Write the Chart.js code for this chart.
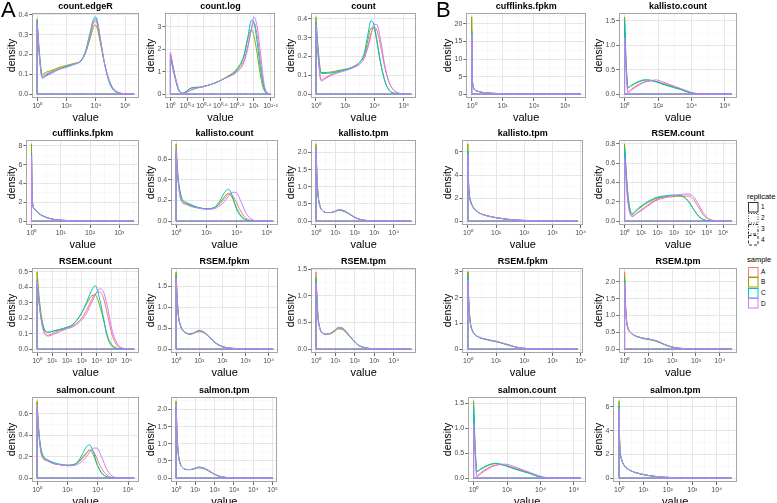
<!DOCTYPE html>
<html>
<head>
<meta charset="utf-8">
<script src="https://cdn.jsdelivr.net/npm/chart.js@4.4.1/dist/chart.umd.min.js"></script>
<style>
  body { margin: 0; background: #fff; }
  #fig { position: relative; width: 777px; height: 503px; overflow: hidden; font-family: "Liberation Sans", Arial, sans-serif; color: #000; }
  #fig canvas { position: absolute; }
  .tag { position: absolute; font-size: 22px; line-height: 22px; color: #000; }
  .lg { position: absolute; color: #000; white-space: nowrap; }
</style>
</head>
<body>
<div id="fig"></div>
<script>
// sample order A, B, C, D; x values are log10(value)
const samples = ['A', 'B', 'C', 'D'];
const sampleColors = ['#F8766D', '#7CAE00', '#00BFC4', '#C77CFF'];
const replicates = ['1', '2', '3', '4'];

// tick sets (log10 exponents / density)
const evenDecades = [0, 2, 4, 6];
const decades0to3 = [0, 1, 2, 3];
const decades0to4 = [0, 1, 2, 3, 4];
const decades0to5 = [0, 1, 2, 3, 4, 5];
const decades0to6 = [0, 1, 2, 3, 4, 5, 6];
const fifthDecades = [0, 0.2, 0.4, 0.6, 0.8, 1.0, 1.2];
const yTenths4 = [0, 0.1, 0.2, 0.3, 0.4];
const yTenths5 = [0, 0.1, 0.2, 0.3, 0.4, 0.5];
const yFifths6 = [0, 0.2, 0.4, 0.6];
const yFifths8 = [0, 0.2, 0.4, 0.6, 0.8];
const yHalves15 = [0, 0.5, 1.0, 1.5];
const yHalves2 = [0, 0.5, 1.0, 1.5, 2.0];
const yOnes3 = [0, 1, 2, 3];
const yTwos6 = [0, 2, 4, 6];
const yTwos8 = [0, 2, 4, 6, 8];
const yFives20 = [0, 5, 10, 15, 20];

// ---- panel A ----
const edgeRX = [0, 0.15, 0.35, 0.6, 1.0, 1.5, 2.0, 2.5, 3.0, 3.3, 3.6, 3.8, 3.95, 4.1, 4.3, 4.6, 4.9, 5.2, 5.6, 6.0, 6.6];
const edgeRY = [
  [0.36, 0.2, 0.09, 0.1, 0.115, 0.13, 0.14, 0.15, 0.17, 0.21, 0.29, 0.35, 0.37, 0.35, 0.27, 0.15, 0.07, 0.025, 0.006, 0.001, 0],
  [0.38, 0.22, 0.1, 0.11, 0.12, 0.135, 0.145, 0.155, 0.17, 0.21, 0.28, 0.33, 0.35, 0.33, 0.26, 0.15, 0.07, 0.025, 0.006, 0.001, 0],
  [0.37, 0.2, 0.085, 0.095, 0.11, 0.125, 0.14, 0.15, 0.17, 0.22, 0.31, 0.37, 0.39, 0.37, 0.28, 0.15, 0.06, 0.02, 0.005, 0.001, 0],
  [0.36, 0.2, 0.08, 0.09, 0.105, 0.125, 0.135, 0.15, 0.17, 0.21, 0.3, 0.36, 0.38, 0.36, 0.28, 0.15, 0.07, 0.025, 0.006, 0.001, 0]
];
const countLogX = [0, 0.05, 0.1, 0.15, 0.25, 0.35, 0.5, 0.65, 0.8, 0.88, 0.93, 0.97, 1.0, 1.04, 1.08, 1.12, 1.16, 1.2];
const countLogY = [
  [1.85, 0.9, 0.2, 0.03, 0.2, 0.3, 0.45, 0.7, 1.05, 1.5, 2.2, 2.9, 3.2, 2.6, 1.4, 0.4, 0.05, 0],
  [1.8, 0.9, 0.2, 0.05, 0.28, 0.32, 0.45, 0.72, 1.15, 1.7, 2.5, 2.9, 2.6, 1.8, 0.8, 0.2, 0.02, 0],
  [1.6, 0.8, 0.15, 0.03, 0.27, 0.3, 0.45, 0.7, 1.1, 1.7, 2.6, 3.3, 3.2, 2.3, 1.1, 0.3, 0.03, 0],
  [1.85, 0.9, 0.2, 0.02, 0.18, 0.3, 0.45, 0.7, 1.0, 1.4, 2.1, 2.9, 3.45, 3.0, 1.8, 0.5, 0.05, 0]
];
const countX = [0, 0.15, 0.35, 0.7, 1.2, 1.8, 2.4, 3.0, 3.3, 3.55, 3.75, 3.95, 4.15, 4.4, 4.7, 5.0, 5.4, 5.9, 6.5];
const countY = [
  [0.38, 0.2, 0.075, 0.09, 0.11, 0.125, 0.14, 0.17, 0.2, 0.26, 0.32, 0.355, 0.34, 0.26, 0.14, 0.06, 0.015, 0.002, 0],
  [0.41, 0.24, 0.115, 0.115, 0.12, 0.13, 0.14, 0.17, 0.21, 0.29, 0.35, 0.35, 0.28, 0.17, 0.07, 0.02, 0.004, 0.001, 0],
  [0.38, 0.22, 0.11, 0.11, 0.115, 0.125, 0.14, 0.17, 0.22, 0.32, 0.39, 0.37, 0.29, 0.17, 0.07, 0.02, 0.004, 0.001, 0],
  [0.37, 0.2, 0.07, 0.085, 0.105, 0.12, 0.135, 0.16, 0.19, 0.25, 0.31, 0.37, 0.37, 0.29, 0.15, 0.06, 0.015, 0.002, 0]
];
const cuffAX = [0, 0.02, 0.05, 0.1, 0.2, 0.3, 0.45, 0.6, 0.8, 1.0, 1.3, 1.7, 2.2, 2.8, 3.5];
const cuffAY = [
  [7.4, 3.2, 1.6, 1.3, 0.95, 0.7, 0.46, 0.3, 0.17, 0.1, 0.05, 0.02, 0.007, 0.002, 0],
  [8.2, 3.4, 1.7, 1.35, 0.97, 0.72, 0.47, 0.3, 0.17, 0.1, 0.05, 0.02, 0.007, 0.002, 0],
  [7.1, 3.1, 1.6, 1.3, 0.95, 0.7, 0.46, 0.3, 0.17, 0.1, 0.05, 0.02, 0.007, 0.002, 0],
  [6.9, 3.0, 1.55, 1.28, 0.94, 0.7, 0.45, 0.29, 0.16, 0.1, 0.05, 0.02, 0.007, 0.002, 0]
];
const kalCountAX = [0, 0.1, 0.25, 0.4, 0.7, 1.0, 1.5, 2.0, 2.5, 2.9, 3.2, 3.45, 3.7, 3.95, 4.25, 4.6, 5.0, 5.6, 6.4];
const kalCountAY = [
  [0.68, 0.45, 0.25, 0.19, 0.17, 0.15, 0.13, 0.12, 0.13, 0.17, 0.22, 0.26, 0.25, 0.19, 0.1, 0.03, 0.005, 0, 0],
  [0.75, 0.5, 0.28, 0.2, 0.17, 0.15, 0.13, 0.12, 0.13, 0.18, 0.24, 0.27, 0.23, 0.14, 0.06, 0.015, 0.002, 0, 0],
  [0.65, 0.45, 0.3, 0.22, 0.18, 0.16, 0.13, 0.12, 0.13, 0.2, 0.28, 0.31, 0.25, 0.13, 0.05, 0.012, 0.002, 0, 0],
  [0.7, 0.45, 0.25, 0.18, 0.16, 0.14, 0.125, 0.115, 0.12, 0.15, 0.19, 0.24, 0.28, 0.28, 0.2, 0.08, 0.015, 0.001, 0]
];
const tpmAX = [0, 0.05, 0.1, 0.2, 0.35, 0.55, 0.75, 0.95, 1.15, 1.35, 1.6, 1.9, 2.2, 2.6, 3.0, 3.6, 4.2, 4.9];
const kalTpmAY = [
  [2.15, 1.3, 0.8, 0.45, 0.3, 0.25, 0.25, 0.28, 0.32, 0.31, 0.25, 0.14, 0.06, 0.018, 0.005, 0.001, 0, 0],
  [2.25, 1.35, 0.82, 0.46, 0.3, 0.25, 0.25, 0.27, 0.31, 0.3, 0.24, 0.14, 0.06, 0.018, 0.005, 0.001, 0, 0],
  [2.1, 1.3, 0.8, 0.45, 0.3, 0.25, 0.25, 0.28, 0.33, 0.32, 0.25, 0.14, 0.06, 0.018, 0.005, 0.001, 0, 0],
  [2.1, 1.28, 0.78, 0.44, 0.3, 0.25, 0.25, 0.28, 0.32, 0.32, 0.26, 0.15, 0.065, 0.02, 0.005, 0.001, 0, 0]
];
const rsemCountAX = [0, 0.2, 0.45, 0.75, 1.2, 1.8, 2.4, 2.9, 3.3, 3.6, 3.9, 4.2, 4.45, 4.7, 5.0, 5.4, 5.9, 6.5];
const rsemCountAY = [
  [0.45, 0.25, 0.12, 0.09, 0.11, 0.13, 0.15, 0.19, 0.25, 0.31, 0.36, 0.37, 0.33, 0.23, 0.1, 0.02, 0.003, 0],
  [0.5, 0.28, 0.14, 0.11, 0.12, 0.135, 0.16, 0.22, 0.29, 0.34, 0.35, 0.28, 0.19, 0.09, 0.03, 0.005, 0.001, 0],
  [0.42, 0.25, 0.13, 0.11, 0.12, 0.135, 0.16, 0.22, 0.3, 0.37, 0.41, 0.32, 0.2, 0.08, 0.02, 0.004, 0.001, 0],
  [0.44, 0.24, 0.11, 0.085, 0.1, 0.125, 0.145, 0.18, 0.23, 0.29, 0.35, 0.39, 0.37, 0.28, 0.13, 0.03, 0.004, 0]
];
const rsemFpkmAX = [0, 0.05, 0.1, 0.2, 0.35, 0.5, 0.65, 0.8, 1.0, 1.2, 1.45, 1.7, 2.0, 2.4, 2.9, 3.5, 4.2];
const rsemFpkmAY = [
  [1.8, 1.2, 0.8, 0.55, 0.42, 0.37, 0.36, 0.39, 0.43, 0.4, 0.28, 0.15, 0.06, 0.02, 0.005, 0.001, 0],
  [1.85, 1.22, 0.82, 0.56, 0.42, 0.37, 0.36, 0.39, 0.42, 0.39, 0.28, 0.15, 0.06, 0.02, 0.005, 0.001, 0],
  [1.75, 1.18, 0.8, 0.55, 0.42, 0.37, 0.37, 0.4, 0.45, 0.41, 0.29, 0.15, 0.06, 0.02, 0.005, 0.001, 0],
  [1.7, 1.15, 0.78, 0.54, 0.41, 0.37, 0.36, 0.4, 0.44, 0.41, 0.29, 0.16, 0.065, 0.022, 0.006, 0.001, 0]
];
const rsemTpmAY = [
  [1.45, 1.0, 0.65, 0.4, 0.3, 0.28, 0.29, 0.34, 0.39, 0.38, 0.3, 0.17, 0.07, 0.02, 0.005, 0.001, 0, 0],
  [1.35, 0.95, 0.62, 0.39, 0.3, 0.28, 0.29, 0.33, 0.38, 0.37, 0.29, 0.17, 0.07, 0.02, 0.005, 0.001, 0, 0],
  [1.3, 0.92, 0.6, 0.39, 0.3, 0.28, 0.3, 0.35, 0.41, 0.4, 0.31, 0.17, 0.07, 0.02, 0.005, 0.001, 0, 0],
  [1.25, 0.9, 0.6, 0.38, 0.3, 0.28, 0.3, 0.35, 0.4, 0.39, 0.31, 0.18, 0.075, 0.022, 0.005, 0.001, 0, 0]
];
const salCountAY = [
  [0.7, 0.45, 0.25, 0.19, 0.16, 0.14, 0.125, 0.12, 0.13, 0.17, 0.22, 0.26, 0.25, 0.18, 0.09, 0.03, 0.005, 0, 0],
  [0.72, 0.48, 0.27, 0.2, 0.17, 0.14, 0.125, 0.12, 0.13, 0.18, 0.23, 0.26, 0.22, 0.13, 0.05, 0.012, 0.002, 0, 0],
  [0.64, 0.44, 0.28, 0.21, 0.17, 0.15, 0.13, 0.12, 0.13, 0.2, 0.28, 0.31, 0.25, 0.13, 0.05, 0.012, 0.002, 0, 0],
  [0.68, 0.44, 0.24, 0.18, 0.16, 0.14, 0.125, 0.115, 0.12, 0.15, 0.19, 0.24, 0.28, 0.28, 0.2, 0.08, 0.015, 0.001, 0]
];
const salTpmAX = [0, 0.05, 0.1, 0.2, 0.35, 0.55, 0.75, 0.95, 1.15, 1.35, 1.6, 1.9, 2.2, 2.6, 3.0, 3.6, 4.3, 5.0];
const salTpmAY = [
  [2.2, 1.3, 0.8, 0.45, 0.3, 0.25, 0.25, 0.28, 0.31, 0.3, 0.24, 0.14, 0.06, 0.018, 0.005, 0.001, 0, 0],
  [2.25, 1.33, 0.81, 0.45, 0.3, 0.25, 0.25, 0.27, 0.3, 0.29, 0.24, 0.14, 0.06, 0.018, 0.005, 0.001, 0, 0],
  [2.1, 1.28, 0.79, 0.45, 0.3, 0.25, 0.25, 0.28, 0.32, 0.31, 0.25, 0.14, 0.06, 0.018, 0.005, 0.001, 0, 0],
  [2.15, 1.28, 0.78, 0.44, 0.3, 0.25, 0.25, 0.28, 0.32, 0.31, 0.25, 0.15, 0.065, 0.02, 0.005, 0.001, 0, 0]
];

// ---- panel B ----
const cuffBX = [0, 0.01, 0.02, 0.04, 0.07, 0.1, 0.2, 0.3, 0.5, 0.7, 1.0, 1.4, 2.0, 2.7, 3.5];
const cuffBY = [
  [18.5, 9, 4.8, 2.5, 1.6, 1.2, 0.8, 0.55, 0.35, 0.22, 0.12, 0.06, 0.02, 0.005, 0],
  [22, 10, 5, 2.6, 1.65, 1.22, 0.8, 0.55, 0.35, 0.22, 0.12, 0.06, 0.02, 0.005, 0],
  [17.5, 8.5, 4.6, 2.4, 1.55, 1.18, 0.8, 0.55, 0.35, 0.22, 0.12, 0.06, 0.02, 0.005, 0],
  [17, 8.3, 4.5, 2.4, 1.55, 1.18, 0.8, 0.56, 0.36, 0.23, 0.13, 0.065, 0.022, 0.006, 0]
];
const countBX = [0, 0.1, 0.2, 0.4, 0.6, 0.85, 1.1, 1.35, 1.6, 1.9, 2.2, 2.6, 3.0, 3.4, 3.8, 4.2, 4.8, 5.6, 6.4];
const kalCountBY = [
  [1.3, 0.5, 0.04, 0.1, 0.15, 0.2, 0.24, 0.26, 0.27, 0.26, 0.23, 0.19, 0.15, 0.1, 0.05, 0.015, 0.002, 0, 0],
  [1.58, 0.6, 0.13, 0.17, 0.21, 0.25, 0.28, 0.29, 0.28, 0.25, 0.21, 0.17, 0.13, 0.09, 0.04, 0.012, 0.002, 0, 0],
  [1.5, 0.58, 0.14, 0.18, 0.22, 0.26, 0.29, 0.29, 0.28, 0.25, 0.22, 0.17, 0.13, 0.09, 0.04, 0.012, 0.002, 0, 0],
  [1.15, 0.45, 0.03, 0.08, 0.13, 0.18, 0.23, 0.26, 0.28, 0.29, 0.26, 0.21, 0.16, 0.11, 0.06, 0.02, 0.003, 0, 0]
];
const salCountBY = [
  [1.2, 0.48, 0.04, 0.1, 0.15, 0.2, 0.24, 0.26, 0.27, 0.26, 0.23, 0.19, 0.15, 0.1, 0.05, 0.015, 0.002, 0, 0],
  [1.55, 0.6, 0.13, 0.17, 0.21, 0.25, 0.28, 0.29, 0.28, 0.25, 0.21, 0.17, 0.13, 0.09, 0.04, 0.012, 0.002, 0, 0],
  [1.45, 0.56, 0.14, 0.18, 0.22, 0.26, 0.29, 0.3, 0.28, 0.25, 0.22, 0.17, 0.13, 0.09, 0.04, 0.012, 0.002, 0, 0],
  [1.1, 0.43, 0.03, 0.08, 0.13, 0.18, 0.23, 0.26, 0.28, 0.28, 0.26, 0.21, 0.16, 0.11, 0.06, 0.02, 0.003, 0, 0]
];
const kalTpmBX = [0, 0.02, 0.05, 0.1, 0.2, 0.35, 0.5, 0.7, 1.0, 1.4, 1.9, 2.5, 3.2, 3.9];
const kalTpmBY = [
  [6.1, 3.6, 2.3, 1.7, 1.15, 0.8, 0.6, 0.45, 0.3, 0.16, 0.07, 0.02, 0.003, 0],
  [6.7, 3.8, 2.4, 1.75, 1.17, 0.8, 0.6, 0.45, 0.3, 0.16, 0.07, 0.02, 0.003, 0],
  [6.0, 3.5, 2.25, 1.7, 1.15, 0.8, 0.6, 0.45, 0.3, 0.16, 0.07, 0.02, 0.003, 0],
  [5.8, 3.4, 2.2, 1.65, 1.13, 0.8, 0.61, 0.46, 0.31, 0.17, 0.075, 0.022, 0.003, 0]
];
const rsemCountBX = [0, 0.2, 0.45, 0.8, 1.2, 1.6, 2.0, 2.4, 2.8, 3.2, 3.6, 3.9, 4.2, 4.5, 4.8, 5.1, 5.5, 6.0, 6.5];
const rsemCountBY = [
  [0.7, 0.22, 0.05, 0.09, 0.14, 0.19, 0.23, 0.25, 0.25, 0.26, 0.26, 0.26, 0.22, 0.14, 0.06, 0.02, 0.004, 0, 0],
  [0.8, 0.28, 0.07, 0.12, 0.17, 0.21, 0.24, 0.25, 0.26, 0.26, 0.25, 0.2, 0.12, 0.05, 0.015, 0.003, 0, 0, 0],
  [0.75, 0.27, 0.075, 0.13, 0.18, 0.22, 0.25, 0.26, 0.27, 0.27, 0.25, 0.2, 0.12, 0.05, 0.015, 0.003, 0, 0, 0],
  [0.65, 0.2, 0.05, 0.085, 0.13, 0.18, 0.22, 0.24, 0.26, 0.27, 0.28, 0.28, 0.25, 0.17, 0.08, 0.025, 0.005, 0, 0]
];
const rsemFpkmBX = [0, 0.03, 0.08, 0.15, 0.25, 0.4, 0.6, 0.8, 1.0, 1.2, 1.45, 1.7, 2.0, 2.4, 3.0, 3.9];
const rsemFpkmBY = [
  [3.0, 1.9, 1.1, 0.75, 0.58, 0.46, 0.39, 0.34, 0.3, 0.24, 0.16, 0.08, 0.03, 0.01, 0.002, 0],
  [3.0, 1.9, 1.1, 0.75, 0.57, 0.45, 0.38, 0.33, 0.29, 0.23, 0.15, 0.08, 0.03, 0.01, 0.002, 0],
  [2.85, 1.85, 1.08, 0.74, 0.57, 0.46, 0.39, 0.34, 0.3, 0.24, 0.16, 0.08, 0.03, 0.01, 0.002, 0],
  [2.7, 1.8, 1.05, 0.73, 0.57, 0.46, 0.4, 0.35, 0.31, 0.25, 0.17, 0.085, 0.032, 0.01, 0.002, 0]
];
const rsemTpmBX = [0, 0.03, 0.08, 0.15, 0.25, 0.4, 0.6, 0.8, 1.0, 1.2, 1.45, 1.7, 2.0, 2.4, 3.0, 3.7, 4.5];
const rsemTpmBY = [
  [2.3, 1.5, 0.9, 0.62, 0.5, 0.42, 0.36, 0.32, 0.3, 0.27, 0.21, 0.13, 0.06, 0.02, 0.004, 0, 0],
  [2.2, 1.45, 0.88, 0.61, 0.49, 0.41, 0.35, 0.31, 0.29, 0.26, 0.2, 0.13, 0.06, 0.02, 0.004, 0, 0],
  [2.05, 1.4, 0.86, 0.6, 0.49, 0.41, 0.36, 0.32, 0.3, 0.27, 0.21, 0.13, 0.06, 0.02, 0.004, 0, 0],
  [1.95, 1.35, 0.84, 0.6, 0.49, 0.41, 0.36, 0.33, 0.31, 0.28, 0.22, 0.14, 0.065, 0.022, 0.005, 0, 0]
];
const salTpmBX = [0, 0.02, 0.05, 0.1, 0.2, 0.35, 0.5, 0.7, 1.0, 1.4, 1.9, 2.5, 3.2, 4.0, 4.6];
const salTpmBY = [
  [6.0, 3.5, 2.2, 1.6, 1.1, 0.78, 0.6, 0.45, 0.3, 0.16, 0.07, 0.02, 0.003, 0, 0],
  [6.5, 3.7, 2.3, 1.65, 1.12, 0.79, 0.6, 0.45, 0.3, 0.16, 0.07, 0.02, 0.003, 0, 0],
  [6.1, 3.5, 2.2, 1.6, 1.1, 0.78, 0.6, 0.45, 0.3, 0.16, 0.07, 0.02, 0.003, 0, 0],
  [5.9, 3.4, 2.15, 1.58, 1.09, 0.78, 0.61, 0.46, 0.31, 0.17, 0.075, 0.022, 0.003, 0, 0]
];

// layout: column canvas edges, box tops per row
const colLeft = { A0: 7, A1: 146, A2: 286, B0: 443, B1: 594 };
const colRight = { A0: 140, A1: 279, A2: 417, B0: 587, B1: 738 };
const rowTop = [13, 140, 268, 397];

const panels = [
  { title: 'count.edgeR', col: 'A0', row: 0, x: edgeRX, y: edgeRY, xt: evenDecades, yt: yTenths4 },
  { title: 'count.log', col: 'A1', row: 0, x: countLogX, y: countLogY, xt: fifthDecades, yt: yOnes3 },
  { title: 'count', col: 'A2', row: 0, x: countX, y: countY, xt: evenDecades, yt: yTenths4 },
  { title: 'cufflinks.fpkm', col: 'A0', row: 1, x: cuffAX, y: cuffAY, xt: decades0to3, yt: yTwos8 },
  { title: 'kallisto.count', col: 'A1', row: 1, x: kalCountAX, y: kalCountAY, xt: evenDecades, yt: yFifths6 },
  { title: 'kallisto.tpm', col: 'A2', row: 1, x: tpmAX, y: kalTpmAY, xt: decades0to4, yt: yHalves2 },
  { title: 'RSEM.count', col: 'A0', row: 2, x: rsemCountAX, y: rsemCountAY, xt: decades0to6, yt: yTenths5 },
  { title: 'RSEM.fpkm', col: 'A1', row: 2, x: rsemFpkmAX, y: rsemFpkmAY, xt: decades0to4, yt: yHalves15 },
  { title: 'RSEM.tpm', col: 'A2', row: 2, x: tpmAX, y: rsemTpmAY, xt: decades0to4, yt: yHalves15 },
  { title: 'salmon.count', col: 'A0', row: 3, x: kalCountAX, y: salCountAY, xt: evenDecades, yt: yFifths6 },
  { title: 'salmon.tpm', col: 'A1', row: 3, x: salTpmAX, y: salTpmAY, xt: decades0to5, yt: yHalves2 },
  { title: 'cufflinks.fpkm', col: 'B0', row: 0, x: cuffBX, y: cuffBY, xt: decades0to3, yt: yFives20 },
  { title: 'kallisto.count', col: 'B1', row: 0, x: countBX, y: kalCountBY, xt: evenDecades, yt: yHalves15 },
  { title: 'kallisto.tpm', col: 'B0', row: 1, x: kalTpmBX, y: kalTpmBY, xt: decades0to4, yt: yTwos6 },
  { title: 'RSEM.count', col: 'B1', row: 1, x: rsemCountBX, y: rsemCountBY, xt: decades0to6, yt: yFifths8 },
  { title: 'RSEM.fpkm', col: 'B0', row: 2, x: rsemFpkmBX, y: rsemFpkmBY, xt: decades0to4, yt: yOnes3 },
  { title: 'RSEM.tpm', col: 'B1', row: 2, x: rsemTpmBX, y: rsemTpmBY, xt: decades0to4, yt: yHalves2 },
  { title: 'salmon.count', col: 'B0', row: 3, x: countBX, y: salCountBY, xt: evenDecades, yt: yHalves15 },
  { title: 'salmon.tpm', col: 'B1', row: 3, x: salTpmBX, y: salTpmBY, xt: decades0to5, yt: yTwos6 }
];

const FONT = '"Liberation Sans", Arial, sans-serif';
Chart.defaults.font.family = FONT;
const fig = document.getElementById('fig');

const sup = { '0': '⁰', '1': '¹', '2': '²', '3': '³', '4': '⁴', '5': '⁵', '6': '⁶', '7': '⁷', '8': '⁸', '9': '⁹', '.': '·' };
const expLabel = v => '10' + String(+v.toFixed(1)).split('').map(ch => sup[ch] || ch).join('');
const decimals = arr => Math.max(...arr.map(v => (String(v).split('.')[1] || '').length));

// majors plus ggplot-style minor lines halfway between them
function withMinor(majors, min, max) {
  const step = majors[1] - majors[0];
  const out = majors.filter(v => v >= min && v <= max).map(v => ({ value: v, minor: false }));
  let v = majors[0] - step / 2;
  while (v - step >= min) v -= step;
  for (; v <= max; v += step) if (v >= min) out.push({ value: v, minor: true });
  return out.sort((a, b) => a.value - b.value);
}

// panel border + strip title centred over the panel (ggplot style)
const frame = {
  id: 'frame',
  afterDatasetsDraw(chart, args, opts) {
    const a = chart.chartArea, c = chart.ctx;
    c.save();
    c.strokeStyle = '#a6a6a6';
    c.lineWidth = 1;
    c.strokeRect(Math.round(a.left) + 0.5, Math.round(a.top) + 0.5, Math.round(a.right - a.left) - 1, Math.round(a.bottom - a.top) - 1);
    c.fillStyle = '#000';
    c.font = 'bold 9px ' + FONT;
    c.textAlign = 'center';
    c.textBaseline = 'middle';
    c.fillText(opts.text, (a.left + a.right) / 2, a.top - 6.5);
    c.restore();
  }
};

const gridOpts = {
  color: c => c.tick && c.tick.minor ? '#f3f3f3' : '#e6e6e6',
  lineWidth: c => c.tick && c.tick.minor ? 0.6 : 1,
  tickColor: c => c.tick && c.tick.minor ? 'rgba(0,0,0,0)' : '#444',
  tickLength: 3,
  tickWidth: 0.8
};

panels.forEach(p => {
  const cv = document.createElement('canvas');
  const left = colLeft[p.col];
  cv.width = Math.round(colRight[p.col] - left);
  cv.height = 124;
  cv.style.left = left + 'px';
  cv.style.top = (rowTop[p.row] - 13) + 'px';
  fig.appendChild(cv);

  const x0 = p.x[0], xEnd = p.x[p.x.length - 1];
  const yMax = Math.max(...p.y.flat());
  const xr = xEnd - x0;
  const yd = decimals(p.yt);

  const datasets = [];
  p.y.forEach((ys, s) => {
    datasets.push({
      data: p.x.map((v, i) => ({ x: v, y: ys[i] })),
      borderColor: sampleColors[s], borderWidth: 1, pointRadius: 0,
      cubicInterpolationMode: 'monotone', showLine: true, order: 3 - s
    });
    // baseline and left edge of the density outline
    datasets.push({
      data: [{ x: xEnd, y: 0 }, { x: x0, y: 0 }, { x: x0, y: ys[0] }],
      borderColor: sampleColors[s], borderWidth: 1, pointRadius: 0,
      showLine: true, order: 3 - s
    });
  });

  new Chart(cv, {
    type: 'scatter',
    data: { datasets },
    options: {
      responsive: false,
      animation: false,
      devicePixelRatio: 1,
      layout: { padding: { left: 0, right: 1, top: 13, bottom: 0 } },
      plugins: {
        legend: { display: false },
        tooltip: { enabled: false },
        frame: { text: p.title }
      },
      scales: {
        x: {
          type: 'linear',
          min: x0 - 0.05 * xr, max: xEnd + 0.05 * xr,
          afterBuildTicks: ax => { ax.ticks = withMinor(p.xt, ax.min, ax.max); },
          afterFit: ax => { ax.height = 26; },
          ticks: {
            autoSkip: false, maxRotation: 0, minRotation: 0, padding: 1,
            color: '#4d4d4d', font: { size: 7 },
            callback: (v, i, t) => t[i].minor ? '' : expLabel(v)
          },
          grid: gridOpts,
          border: { display: false },
          title: { display: true, text: 'value', color: '#000', font: { size: 11, lineHeight: 1 }, padding: { top: 0, bottom: 1 } }
        },
        y: {
          type: 'linear',
          min: -0.05 * yMax, max: 1.05 * yMax,
          afterBuildTicks: ax => { ax.ticks = withMinor(p.yt, ax.min, ax.max); },
          ticks: {
            autoSkip: false, padding: 1, color: '#4d4d4d', font: { size: 7 },
            callback: (v, i, t) => t[i].minor ? '' : v.toFixed(yd)
          },
          grid: gridOpts,
          border: { display: false },
          title: { display: true, text: 'density', color: '#000', font: { size: 10.5, lineHeight: 1 }, padding: { top: 0, bottom: 0 } }
        }
      }
    },
    plugins: [frame]
  });
});

// panel tags
[['A', 1], ['B', 436]].forEach(([t, x]) => {
  const d = document.createElement('div');
  d.className = 'tag'; d.textContent = t;
  d.style.left = x + 'px'; d.style.top = '-1px';
  fig.appendChild(d);
});

// legends
function legendText(text, x, cy, size) {
  const d = document.createElement('div');
  d.className = 'lg'; d.textContent = text;
  d.style.left = x + 'px'; d.style.top = (cy - size / 2) + 'px';
  d.style.fontSize = size + 'px'; d.style.lineHeight = size + 'px';
  fig.appendChild(d);
}
function legendKey(x, cy, stroke, dash) {
  const ns = 'http://www.w3.org/2000/svg';
  const s = document.createElementNS(ns, 'svg');
  s.setAttribute('width', 11); s.setAttribute('height', 11);
  s.style.position = 'absolute'; s.style.left = x + 'px'; s.style.top = (cy - 5.5) + 'px';
  const r = document.createElementNS(ns, 'rect');
  r.setAttribute('x', 0.5); r.setAttribute('y', 0.5); r.setAttribute('width', 9.5); r.setAttribute('height', 9.5);
  r.setAttribute('fill', '#fff'); r.setAttribute('stroke', stroke); r.setAttribute('stroke-width', 1);
  if (dash) r.setAttribute('stroke-dasharray', dash);
  s.appendChild(r);
  fig.appendChild(s);
}
const replicateDash = ['', '1,1.5', '3,1.5,1,1.5', '3,2'];
legendText('replicate', 747, 197, 7.5);
replicates.forEach((r, i) => {
  const cy = 207.5 + i * 11;
  legendKey(748, cy, '#333', replicateDash[i]);
  legendText(r, 761, cy, 6.5);
});
legendText('sample', 747, 260, 7.5);
samples.forEach((s, i) => {
  const cy = 272 + i * 10.6;
  legendKey(748, cy, sampleColors[i], '');
  legendText(s, 761, cy, 6.5);
});
</script>
</body>
</html>
